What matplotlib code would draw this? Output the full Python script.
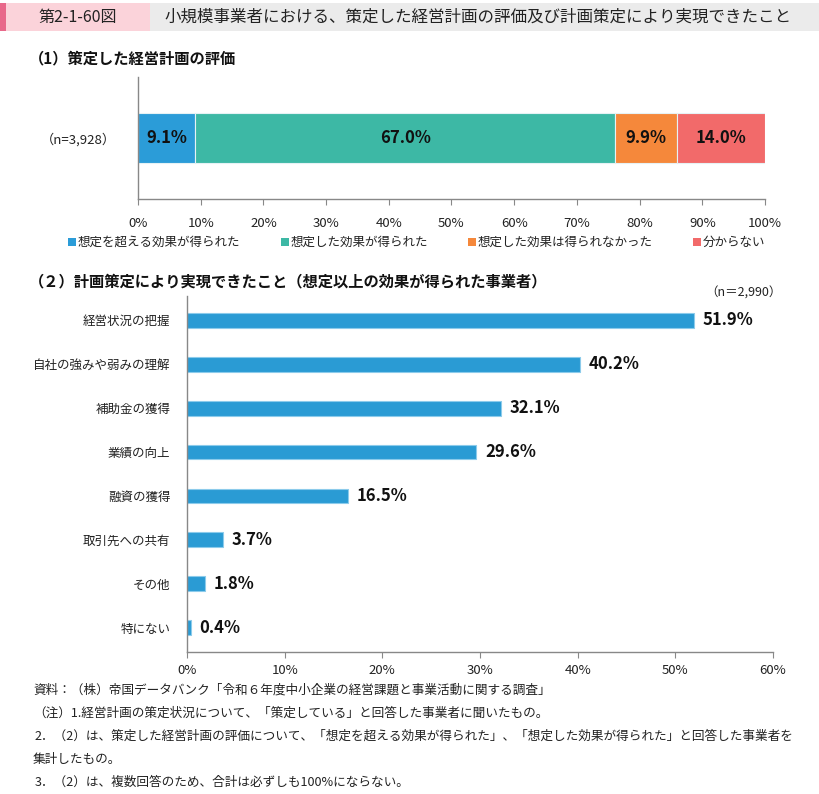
import matplotlib
matplotlib.use("Agg")
import matplotlib.pyplot as plt
from matplotlib.patches import Rectangle

plt.rcParams['font.family'] = ['Noto Sans CJK JP', 'DejaVu Sans']

# ---- data ----
eval_labels = ["想定を超える効果が得られた", "想定した効果が得られた", "想定した効果は得られなかった", "分からない"]
eval_values = [9.1, 67.0, 9.9, 14.0]
eval_colors = ["#2B9CD8", "#3DB8A5", "#F5883B", "#F26A6A"]
eval_n = "（n=3,928）"

items = ["経営状況の把握", "自社の強みや弱みの理解", "補助金の獲得", "業績の向上",
         "融資の獲得", "取引先への共有", "その他", "特にない"]
item_values = [51.9, 40.2, 32.1, 29.6, 16.5, 3.7, 1.8, 0.4]
item_n = "（n＝2,990）"

x1_ticks = list(range(0, 101, 10))
x2_ticks = list(range(0, 61, 10))

W, H = 820, 794
fig = plt.figure(figsize=(W / 100, H / 100), dpi=100)

def fx(x):
    return x / W

def fy(y):
    return 1 - y / H

def ax_rect(l, t, r, b):
    return [fx(l), fy(b), (r - l) / W, (b - t) / H]

# ---- header ----
fig.patches.append(Rectangle((fx(0), fy(31)), fx(150), 28 / H, transform=fig.transFigure,
                             facecolor="#FBD3DA", edgecolor="none"))
fig.patches.append(Rectangle((fx(0), fy(31)), fx(6), 28 / H, transform=fig.transFigure,
                             facecolor="#E8688A", edgecolor="none"))
fig.patches.append(Rectangle((fx(150), fy(31)), fx(670), 28 / H, transform=fig.transFigure,
                             facecolor="#EBEBEB", edgecolor="none"))
fig.text(fx(78), fy(17), "第2-1-60図", ha="center", va="center", fontsize=11.5, color="#222222")
fig.text(fx(164), fy(17), "小規模事業者における、策定した経営計画の評価及び計画策定により実現できたこと",
         ha="left", va="center", fontsize=11.9, color="#222222")

# ---- section 1 ----
fig.text(fx(29), fy(58), "（1）策定した経営計画の評価", ha="left", va="center",
         fontsize=11, fontweight="bold", color="#111111")

ax1 = fig.add_axes(ax_rect(138, 77, 765, 199))
left = 0
for v, c in zip(eval_values, eval_colors):
    ax1.barh([0], [v], left=[left], height=0.405, color=c, edgecolor="#E6F2F5", linewidth=0.8)
    ax1.text(left + v / 2, 0, f"{v:.1f}%", ha="center", va="center", fontsize=12,
             fontweight="bold", color="#111111")
    left += v
ax1.set_xlim(0, 100)
ax1.set_ylim(-0.5, 0.5)
ax1.set_xticks(x1_ticks)
ax1.set_xticklabels([f"{t}%" for t in x1_ticks], fontsize=9.5, color="#222222")
ax1.set_yticks([0])
ax1.set_yticklabels([eval_n], fontsize=9.5, color="#222222")
ax1.tick_params(axis="y", length=0, pad=16)
ax1.tick_params(axis="x", length=4, color="#888888", pad=9, direction="out")
for s in ["top", "right"]:
    ax1.spines[s].set_visible(False)
for s in ["left", "bottom"]:
    ax1.spines[s].set_color("#888888")
    ax1.spines[s].set_linewidth(1)

# legend
leg_x = [68, 281, 468, 693]
for x, lab, c in zip(leg_x, eval_labels, eval_colors):
    fig.patches.append(Rectangle((fx(x), fy(246)), 8 / W, 8 / H, transform=fig.transFigure,
                                 facecolor=c, edgecolor="none"))
    fig.text(fx(x + 10), fy(242), lab, ha="left", va="center", fontsize=9, color="#222222")

# ---- section 2 ----
fig.text(fx(29), fy(281), "（２）計画策定により実現できたこと（想定以上の効果が得られた事業者）",
         ha="left", va="center", fontsize=11, fontweight="bold", color="#111111")
fig.text(fx(782), fy(293), item_n, ha="right", va="center", fontsize=9, color="#222222")

ax2 = fig.add_axes(ax_rect(187, 296, 773, 652))
ypos = list(range(len(items)))
ax2.barh(ypos, item_values, height=0.34, color="#2A9BD4", edgecolor="#8CCBEB", linewidth=0.8)
for y, v in zip(ypos, item_values):
    ax2.text(v + 0.9, y, f"{v:.1f}%", ha="left", va="center", fontsize=12,
             fontweight="bold", color="#111111")
ax2.set_xlim(0, 60)
ax2.set_ylim(len(items) - 0.45, -0.55)
ax2.set_xticks(x2_ticks)
ax2.set_xticklabels([f"{t}%" for t in x2_ticks], fontsize=9.5, color="#222222")
ax2.set_yticks(ypos)
ax2.set_yticklabels(items, fontsize=9, color="#222222")
ax2.tick_params(axis="y", length=0, pad=12)
ax2.tick_params(axis="x", length=4, color="#888888", pad=5, direction="out")
for s in ["top", "right"]:
    ax2.spines[s].set_visible(False)
for s in ["left", "bottom"]:
    ax2.spines[s].set_color("#888888")
    ax2.spines[s].set_linewidth(1)

# ---- notes ----
notes = [
    (33, 690, "資料：（株）帝国データバンク「令和６年度中小企業の経営課題と事業活動に関する調査」"),
    (33, 713, "（注）1.経営計画の策定状況について、「策定している」と回答した事業者に聞いたもの。"),
    (35, 736, "2．（2）は、策定した経営計画の評価について、「想定を超える効果が得られた」、「想定した効果が得られた」と回答した事業者を"),
    (33, 759, "集計したもの。"),
    (35, 782, "3．（2）は、複数回答のため、合計は必ずしも100%にならない。"),
]
for x, y, t in notes:
    fig.text(fx(x), fy(y), t, ha="left", va="center", fontsize=9.1, color="#222222")

fig.savefig("out.png", dpi=100)
